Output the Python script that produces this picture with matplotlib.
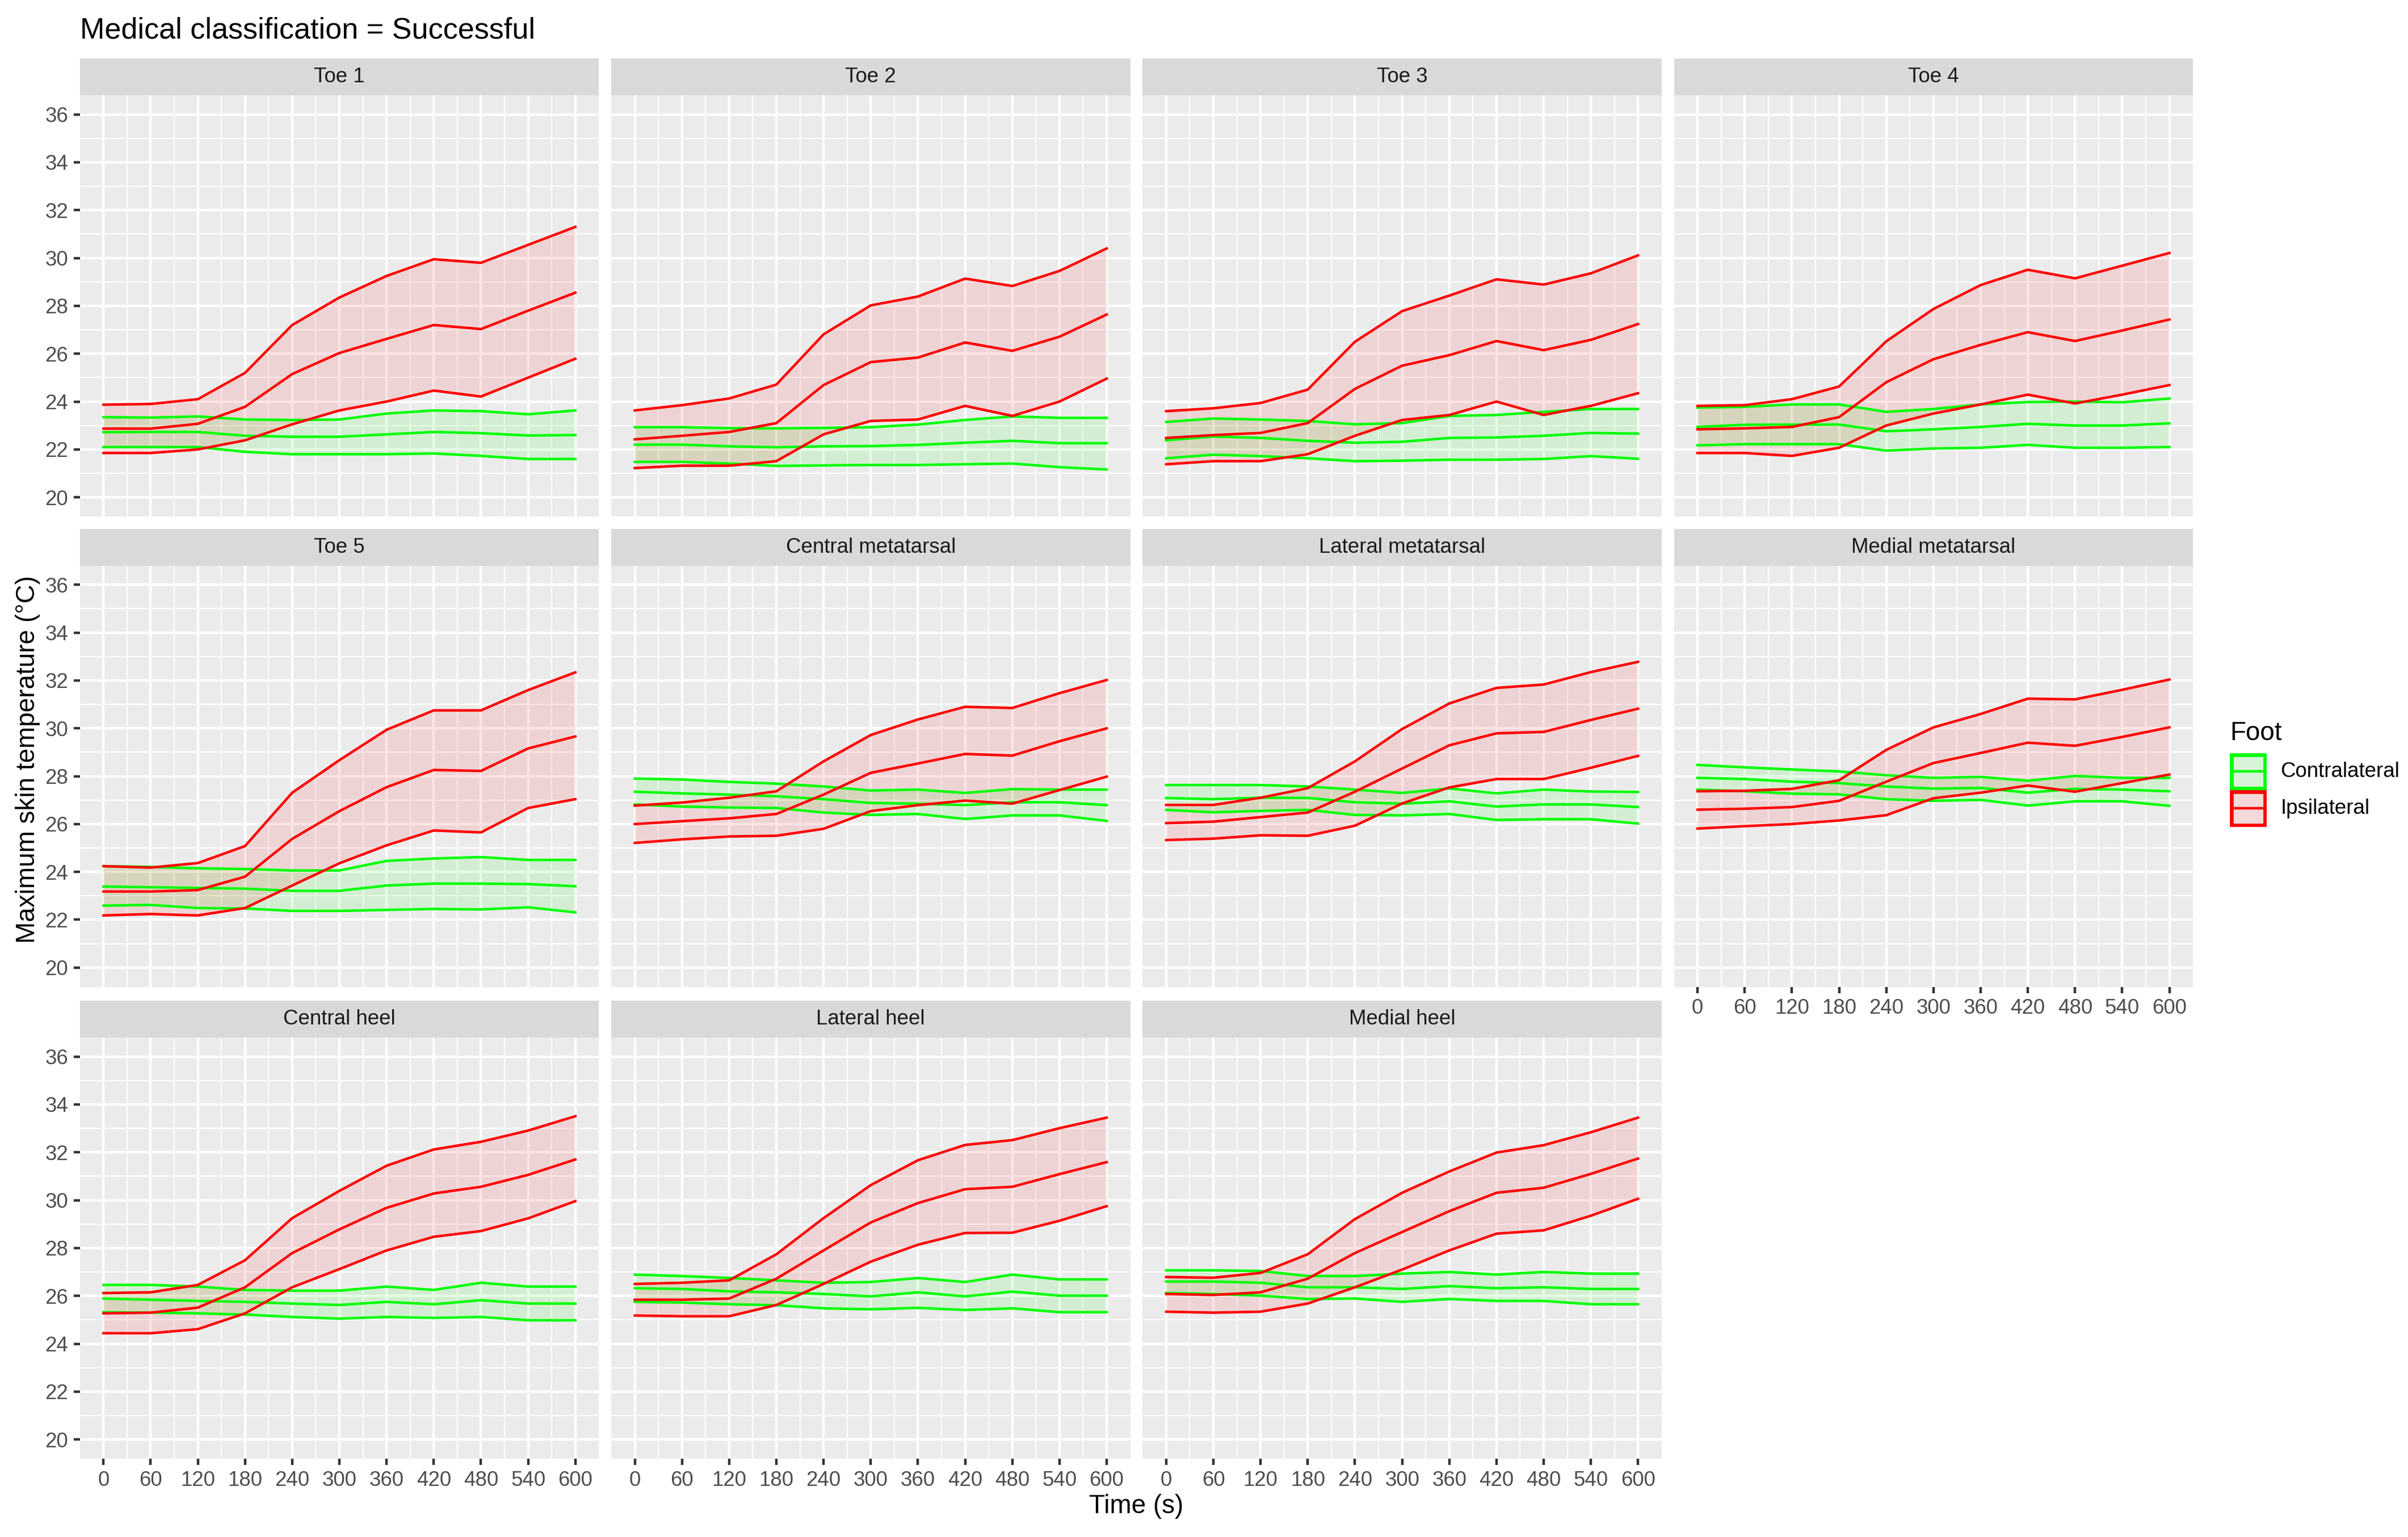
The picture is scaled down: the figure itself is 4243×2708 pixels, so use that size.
import numpy as np
import matplotlib
matplotlib.use('Agg')
import matplotlib.pyplot as plt
from matplotlib.patches import Rectangle

plt.rcParams['font.family'] = ['Liberation Sans', 'DejaVu Sans']

time_s = [0, 60, 120, 180, 240, 300, 360, 420, 480, 540, 600]

# values read per region: lower band, mean, upper band for each foot
toe1 = {
    'contra_lo': [22.1, 22.1, 22.1, 21.9, 21.8, 21.8, 21.8, 21.83, 21.73, 21.6, 21.6],
    'contra_mid': [22.72, 22.73, 22.73, 22.57, 22.53, 22.53, 22.63, 22.73, 22.68, 22.58, 22.6],
    'contra_hi': [23.35, 23.33, 23.38, 23.25, 23.23, 23.25, 23.5, 23.63, 23.6, 23.47, 23.63],
    'ipsi_lo': [21.85, 21.85, 22.0, 22.38, 23.05, 23.63, 24.0, 24.46, 24.21, 25.0, 25.79],
    'ipsi_mid': [22.87, 22.87, 23.07, 23.78, 25.15, 26.03, 26.62, 27.2, 27.03, 27.8, 28.55],
    'ipsi_hi': [23.87, 23.9, 24.1, 25.2, 27.2, 28.35, 29.25, 29.95, 29.8, 30.55, 31.3],
}
toe2 = {
    'contra_lo': [21.48, 21.48, 21.41, 21.31, 21.33, 21.35, 21.35, 21.38, 21.41, 21.26, 21.16],
    'contra_mid': [22.2, 22.2, 22.13, 22.09, 22.13, 22.14, 22.19, 22.28, 22.36, 22.26, 22.26],
    'contra_hi': [22.93, 22.93, 22.89, 22.88, 22.9, 22.93, 23.04, 23.23, 23.38, 23.32, 23.32],
    'ipsi_lo': [21.22, 21.32, 21.32, 21.51, 22.63, 23.19, 23.25, 23.82, 23.4, 24.0, 24.96],
    'ipsi_mid': [22.42, 22.57, 22.73, 23.1, 24.69, 25.65, 25.84, 26.47, 26.12, 26.71, 27.64],
    'ipsi_hi': [23.63, 23.85, 24.13, 24.71, 26.81, 28.02, 28.39, 29.14, 28.83, 29.46, 30.4],
}
toe3 = {
    'contra_lo': [21.63, 21.78, 21.72, 21.63, 21.51, 21.53, 21.57, 21.57, 21.6, 21.72, 21.61],
    'contra_mid': [22.38, 22.54, 22.48, 22.36, 22.28, 22.32, 22.48, 22.5, 22.57, 22.69, 22.66],
    'contra_hi': [23.15, 23.29, 23.25, 23.19, 23.05, 23.1, 23.4, 23.44, 23.57, 23.69, 23.69],
    'ipsi_lo': [21.38, 21.51, 21.51, 21.8, 22.57, 23.23, 23.44, 24.0, 23.44, 23.82, 24.35],
    'ipsi_mid': [22.48, 22.6, 22.69, 23.1, 24.53, 25.5, 25.94, 26.53, 26.15, 26.58, 27.24],
    'ipsi_hi': [23.6, 23.72, 23.94, 24.5, 26.5, 27.78, 28.43, 29.11, 28.89, 29.36, 30.11],
}
toe4 = {
    'contra_lo': [22.17, 22.22, 22.22, 22.22, 21.95, 22.04, 22.07, 22.19, 22.07, 22.07, 22.1],
    'contra_mid': [22.94, 23.03, 23.04, 23.04, 22.76, 22.84, 22.94, 23.07, 23.0, 23.0, 23.09],
    'contra_hi': [23.75, 23.78, 23.88, 23.88, 23.57, 23.69, 23.88, 23.98, 24.0, 23.97, 24.13],
    'ipsi_lo': [21.85, 21.85, 21.73, 22.07, 23.0, 23.5, 23.88, 24.29, 23.92, 24.29, 24.69],
    'ipsi_mid': [22.84, 22.88, 22.94, 23.35, 24.81, 25.77, 26.37, 26.9, 26.53, 26.97, 27.43],
    'ipsi_hi': [23.82, 23.85, 24.1, 24.63, 26.52, 27.87, 28.87, 29.51, 29.15, 29.68, 30.21],
}
toe5 = {
    'contra_lo': [22.59, 22.62, 22.49, 22.47, 22.37, 22.37, 22.41, 22.45, 22.43, 22.52, 22.31],
    'contra_mid': [23.39, 23.36, 23.33, 23.3, 23.21, 23.21, 23.43, 23.51, 23.51, 23.49, 23.4],
    'contra_hi': [24.24, 24.21, 24.15, 24.12, 24.06, 24.06, 24.46, 24.56, 24.62, 24.5, 24.5],
    'ipsi_lo': [22.18, 22.24, 22.18, 22.49, 23.43, 24.36, 25.11, 25.73, 25.65, 26.67, 27.04],
    'ipsi_mid': [23.18, 23.18, 23.24, 23.8, 25.38, 26.54, 27.54, 28.26, 28.22, 29.16, 29.66],
    'ipsi_hi': [24.24, 24.18, 24.37, 25.08, 27.31, 28.67, 29.94, 30.75, 30.75, 31.6, 32.34],
}
central_meta = {
    'contra_lo': [26.82, 26.73, 26.69, 26.67, 26.48, 26.38, 26.42, 26.21, 26.36, 26.36, 26.13],
    'contra_mid': [27.35, 27.28, 27.23, 27.16, 27.04, 26.88, 26.85, 26.79, 26.91, 26.91, 26.79],
    'contra_hi': [27.9, 27.86, 27.76, 27.69, 27.57, 27.4, 27.44, 27.3, 27.46, 27.44, 27.44],
    'ipsi_lo': [25.21, 25.36, 25.48, 25.51, 25.8, 26.54, 26.79, 26.98, 26.85, 27.42, 27.98],
    'ipsi_mid': [26.0, 26.12, 26.24, 26.42, 27.23, 28.14, 28.53, 28.93, 28.86, 29.46, 30.0],
    'ipsi_hi': [26.77, 26.9, 27.1, 27.37, 28.62, 29.72, 30.37, 30.9, 30.85, 31.47, 32.02],
}
lateral_meta = {
    'contra_lo': [26.59, 26.49, 26.55, 26.59, 26.38, 26.36, 26.42, 26.17, 26.2, 26.2, 26.02],
    'contra_mid': [27.09, 27.04, 27.1, 27.09, 26.91, 26.85, 26.95, 26.73, 26.82, 26.82, 26.71],
    'contra_hi': [27.63, 27.63, 27.63, 27.57, 27.44, 27.3, 27.49, 27.28, 27.44, 27.36, 27.34],
    'ipsi_lo': [25.33, 25.39, 25.53, 25.51, 25.93, 26.86, 27.53, 27.88, 27.88, 28.35, 28.85],
    'ipsi_mid': [26.04, 26.1, 26.29, 26.48, 27.35, 28.32, 29.29, 29.79, 29.85, 30.35, 30.82],
    'ipsi_hi': [26.8, 26.8, 27.1, 27.5, 28.62, 29.97, 31.04, 31.69, 31.83, 32.35, 32.78],
}
medial_meta = {
    'contra_lo': [27.44, 27.37, 27.27, 27.24, 27.04, 26.97, 27.01, 26.77, 26.95, 26.95, 26.76],
    'contra_mid': [27.93, 27.88, 27.77, 27.71, 27.57, 27.48, 27.51, 27.31, 27.47, 27.44, 27.37],
    'contra_hi': [28.47, 28.37, 28.28, 28.2, 28.04, 27.93, 27.97, 27.81, 28.01, 27.93, 27.93],
    'ipsi_lo': [25.81, 25.91, 26.0, 26.15, 26.37, 27.08, 27.31, 27.61, 27.35, 27.71, 28.07],
    'ipsi_mid': [26.6, 26.64, 26.71, 26.97, 27.77, 28.55, 28.97, 29.4, 29.27, 29.64, 30.04],
    'ipsi_hi': [27.37, 27.39, 27.47, 27.83, 29.1, 30.04, 30.6, 31.24, 31.21, 31.61, 32.04],
}
central_heel = {
    'contra_lo': [25.32, 25.3, 25.27, 25.22, 25.12, 25.05, 25.12, 25.08, 25.12, 24.98, 24.98],
    'contra_mid': [25.89, 25.84, 25.79, 25.75, 25.68, 25.62, 25.75, 25.65, 25.82, 25.68, 25.68],
    'contra_hi': [26.46, 26.46, 26.39, 26.25, 26.22, 26.22, 26.39, 26.25, 26.55, 26.39, 26.39],
    'ipsi_lo': [24.44, 24.44, 24.61, 25.27, 26.36, 27.12, 27.9, 28.47, 28.71, 29.24, 29.96],
    'ipsi_mid': [25.27, 25.3, 25.51, 26.36, 27.79, 28.78, 29.68, 30.28, 30.56, 31.06, 31.7],
    'ipsi_hi': [26.12, 26.15, 26.46, 27.49, 29.25, 30.39, 31.44, 32.12, 32.44, 32.91, 33.51],
}
lateral_heel = {
    'contra_lo': [25.75, 25.72, 25.65, 25.61, 25.48, 25.44, 25.5, 25.41, 25.48, 25.32, 25.32],
    'contra_mid': [26.32, 26.29, 26.19, 26.15, 26.08, 25.98, 26.15, 25.98, 26.18, 26.01, 26.01],
    'contra_hi': [26.89, 26.83, 26.75, 26.65, 26.55, 26.58, 26.75, 26.58, 26.89, 26.69, 26.69],
    'ipsi_lo': [25.18, 25.15, 25.15, 25.62, 26.5, 27.43, 28.14, 28.63, 28.64, 29.14, 29.75],
    'ipsi_mid': [25.84, 25.84, 25.89, 26.72, 27.9, 29.07, 29.88, 30.46, 30.56, 31.09, 31.59],
    'ipsi_hi': [26.5, 26.55, 26.65, 27.74, 29.25, 30.63, 31.67, 32.31, 32.51, 33.01, 33.45],
}
medial_heel = {
    'contra_lo': [26.12, 26.08, 26.01, 25.87, 25.89, 25.75, 25.87, 25.79, 25.79, 25.65, 25.65],
    'contra_mid': [26.6, 26.6, 26.55, 26.36, 26.36, 26.29, 26.41, 26.32, 26.36, 26.29, 26.29],
    'contra_hi': [27.07, 27.07, 27.04, 26.83, 26.83, 26.93, 27.0, 26.89, 27.0, 26.93, 26.93],
    'ipsi_lo': [25.34, 25.3, 25.34, 25.68, 26.36, 27.1, 27.9, 28.6, 28.74, 29.35, 30.06],
    'ipsi_mid': [26.08, 26.04, 26.15, 26.72, 27.79, 28.67, 29.54, 30.31, 30.52, 31.1, 31.74],
    'ipsi_hi': [26.79, 26.76, 26.96, 27.74, 29.21, 30.31, 31.2, 31.99, 32.3, 32.84, 33.45],
}

regions = [
    ('Toe 1', toe1), ('Toe 2', toe2), ('Toe 3', toe3), ('Toe 4', toe4),
    ('Toe 5', toe5), ('Central metatarsal', central_meta),
    ('Lateral metatarsal', lateral_meta), ('Medial metatarsal', medial_meta),
    ('Central heel', central_heel), ('Lateral heel', lateral_heel),
    ('Medial heel', medial_heel),
]

feet = [('contra', 'Contralateral', '#00FF00'), ('ipsi', 'Ipsilateral', '#FF0000')]

W, H = 1568.0, 1000.0
col_left = [52, 398, 744, 1090]
panel_w = 338
row_top = [62, 368, 675]
panel_h = 274
strip_h = 24

fig = plt.figure(figsize=(4243 / 300, 2708 / 300), dpi=300)
fig.patch.set_facecolor('white')

for i, (name, d) in enumerate(regions):
    row, col = divmod(i, 4)
    left = col_left[col] / W
    bottom = 1 - (row_top[row] + panel_h) / H
    ax = fig.add_axes([left, bottom, panel_w / W, panel_h / H])
    ax.set_facecolor('#EBEBEB')
    for s in ax.spines.values():
        s.set_visible(False)

    for key, label, color in feet:
        lo, mid, hi = d[key + '_lo'], d[key + '_mid'], d[key + '_hi']
        ax.fill_between(time_s, lo, hi, facecolor=color, alpha=0.1, lw=0)
        for vals in (lo, mid, hi):
            ax.plot(time_s, vals, color=color, lw=1.07)

    ax.set_xlim(-30, 630)
    ax.set_ylim(19.2, 36.8)
    ax.set_xticks(time_s)
    ax.set_xticks(np.arange(30, 600, 60), minor=True)
    ax.set_yticks(np.arange(20, 37, 2))
    ax.set_yticks(np.arange(21, 36, 2), minor=True)
    ax.grid(which='major', color='white', lw=1.07)
    ax.grid(which='minor', color='white', lw=0.53)
    ax.set_axisbelow(True)
    ax.tick_params(which='minor', length=0)
    ax.tick_params(which='major', length=2.75, width=1.07, color='#333333',
                   labelsize=8.8, labelcolor='#4D4D4D', pad=2.2)

    is_bottom = (row == 2) or (row == 1 and col == 3)
    if not is_bottom:
        ax.tick_params(axis='x', which='both', length=0, labelbottom=False)
    if col != 0:
        ax.tick_params(axis='y', which='both', length=0, labelleft=False)

    sax = fig.add_axes([left, 1 - row_top[row] / H, panel_w / W, strip_h / H])
    sax.set_facecolor('#D9D9D9')
    sax.set_xticks([])
    sax.set_yticks([])
    for s in sax.spines.values():
        s.set_visible(False)
    sax.text(0.5, 0.5, name, ha='center', va='center', fontsize=8.8,
             color='#1A1A1A', transform=sax.transAxes)

fig.text(52 / W, 1 - 20 / H, 'Medical classification = Successful',
         ha='left', va='center', fontsize=12.5, color='black')
fig.text(18 / W, 1 - 494 / H, 'Maximum skin temperature (°C)',
         ha='center', va='center', rotation=90, fontsize=11, color='black')
fig.text(740 / W, 1 - 980 / H, 'Time (s)', ha='center', va='center',
         fontsize=11, color='black')

# legend, drawn by hand like the ggplot guide
fig.text(1452 / W, 1 - 477 / H, 'Foot', ha='left', va='center',
         fontsize=11, color='black')
for j, (key, label, color) in enumerate(feet):
    top = 490 + 24 * j
    kax = fig.add_axes([1452 / W, 1 - (top + 24) / H, 24 / W, 24 / H])
    kax.set_xlim(0, 1)
    kax.set_ylim(0, 1)
    kax.set_facecolor('#F2F2F2')
    kax.set_xticks([])
    kax.set_yticks([])
    for s in kax.spines.values():
        s.set_visible(False)
    rgb = matplotlib.colors.to_rgb(color)
    kax.add_patch(Rectangle((0.05, 0.05), 0.9, 0.9, facecolor=rgb + (0.1,),
                            edgecolor=color, lw=1.6))
    kax.plot([0.1, 0.9], [0.5, 0.5], color=color, lw=1.07)
    fig.text(1485 / W, 1 - (top + 12) / H, label, ha='left', va='center',
             fontsize=8.8, color='black')

fig.savefig('out.png', dpi=300)
